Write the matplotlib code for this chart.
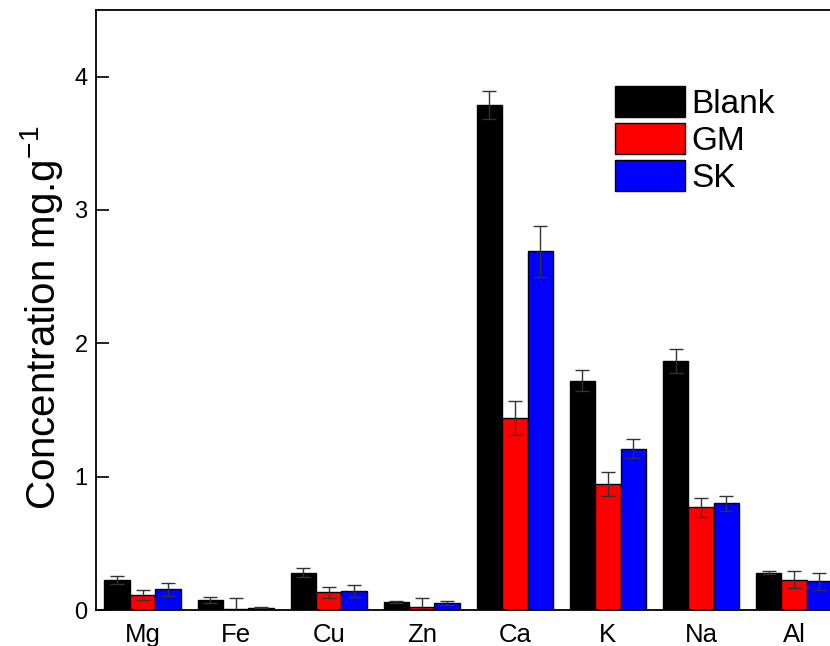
import numpy as np
import matplotlib
matplotlib.use("Agg")
import matplotlib.pyplot as plt

plt.rcParams["font.family"] = ["Liberation Sans", "DejaVu Sans"]

# ---- data ----
elements = ["Mg", "Fe", "Cu", "Zn", "Ca", "K", "Na", "Al"]
series_names = ["Blank", "GM", "SK"]

blank = [0.226, 0.075, 0.280, 0.063, 3.79, 1.72, 1.87, 0.280]
gm = [0.113, 0.010, 0.133, 0.025, 1.44, 0.945, 0.77, 0.228]
sk = [0.155, 0.017, 0.145, 0.055, 2.69, 1.21, 0.80, 0.216]

blank_err = [0.032, 0.025, 0.033, 0.007, 0.105, 0.08, 0.09, 0.013]
gm_err = [0.037, 0.080, 0.042, 0.063, 0.13, 0.09, 0.07, 0.065]
sk_err = [0.050, 0.003, 0.045, 0.015, 0.19, 0.07, 0.055, 0.065]

colors = ["#000000", "#ff0000", "#0000ff"]

# ---- plot ----
fig = plt.figure(figsize=(8.3, 6.46), dpi=100)
# axes runs past the right edge, as in the (cropped) original
ax = fig.add_axes([0.1157, 0.0557, 0.897, 0.929])

x = np.arange(len(elements))
w = 0.273
for i, (vals, errs, name) in enumerate(zip([blank, gm, sk],
                                            [blank_err, gm_err, sk_err],
                                            series_names)):
    ax.bar(x + (i - 1) * w, vals, w, yerr=errs, color=colors[i],
           edgecolor="black", linewidth=1.0, label=name,
           error_kw=dict(ecolor="#333333", elinewidth=1.0, capsize=5, capthick=1.0))

ax.set_xlim(-0.5, 7.5)
ax.set_ylim(0, 4.5)
ax.set_yticks([0, 1, 2, 3, 4])
ax.set_xticks(x)
ax.set_xticklabels(elements)
ax.tick_params(axis="y", direction="in", length=9, width=1.2, labelsize=17, pad=6)
ax.tick_params(axis="x", length=0, labelsize=18.5, pad=9)
for s in ax.spines.values():
    s.set_linewidth(1.3)

ax.set_ylabel("Concentration mg.g$^{\\mathregular{-1}}$", fontsize=29)
ax.yaxis.set_label_coords(-0.042, 0.487)

ax.legend(loc="upper left", bbox_to_anchor=(0.697, 0.873), frameon=False,
          fontsize=24, handlelength=2.1, handleheight=1.05, labelspacing=0.1,
          handletextpad=0.2, borderaxespad=0, borderpad=0)

fig.savefig("out.png", dpi=100)
